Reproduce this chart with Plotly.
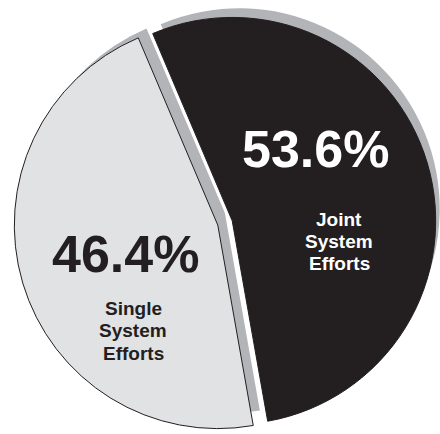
import plotly.graph_objects as go

# ---- data ----
labels = ["Joint System Efforts", "Single System Efforts"]
values = [53.6, 46.4]
slice_colors = ["#231f20", "#e1e2e4"]
text_colors = ["#ffffff", "#231f20"]

W, H = 440, 434
FONT = "Liberation Sans, Arial, Helvetica, sans-serif"
PULL = 0.037
ROT = -23

def dom(cx, cy, half):
    # cx, cy in px from top-left; half = half size of square domain in px
    x0 = max(0.0, (cx - half) / W)
    x1 = min(1.0, (cx + half) / W)
    y0 = max(0.0, (H - cy - half) / H)
    y1 = min(1.0, (H - cy + half) / H)
    return dict(x=[x0, x1], y=[y0, y1])

fig = go.Figure()

# shadow
fig.add_trace(go.Pie(
    labels=labels, values=values, sort=False, direction="clockwise",
    rotation=ROT, pull=[PULL, PULL],
    marker=dict(colors=["#b2b4b7", "#b2b4b7"], line=dict(width=0)),
    textinfo="none", hoverinfo="skip", showlegend=False,
    domain=dom(232, 211, 208),
))

# main pie
fig.add_trace(go.Pie(
    labels=labels, values=values, sort=False, direction="clockwise",
    rotation=ROT, pull=[PULL, PULL],
    marker=dict(colors=slice_colors, line=dict(color="#231f20", width=1)),
    textinfo="none", showlegend=False,
    domain=dom(225, 223, 211),
))

# label placement (px centres)
pct_pos = [(315.5, 149), (125.5, 254)]
lab_pos = [(339, [226, 248, 270]), (133, [315, 337, 360])]

annotations = []
for i, lab in enumerate(labels):
    px, py = pct_pos[i]
    annotations.append(dict(
        x=px / W, y=1 - py / H, xref="paper", yref="paper",
        text=f"{values[i]}%", showarrow=False, xanchor="center", yanchor="middle",
        font=dict(family=FONT, size=52, color=text_colors[i], weight="bold"),
    ))
    lx, baselines = lab_pos[i]
    for word, base in zip(lab.split(" "), baselines):
        annotations.append(dict(
            x=lx / W, y=1 - (base - 0.35 * 19) / H, xref="paper", yref="paper",
            text=f"<b>{word}</b>", showarrow=False, xanchor="center", yanchor="middle",
            font=dict(family=FONT, size=19, color=text_colors[i]),
        ))

fig.update_layout(
    width=W, height=H, margin=dict(l=0, r=0, t=0, b=0),
    paper_bgcolor="white", plot_bgcolor="white",
    annotations=annotations, showlegend=False,
)

fig.write_html("out.html")
